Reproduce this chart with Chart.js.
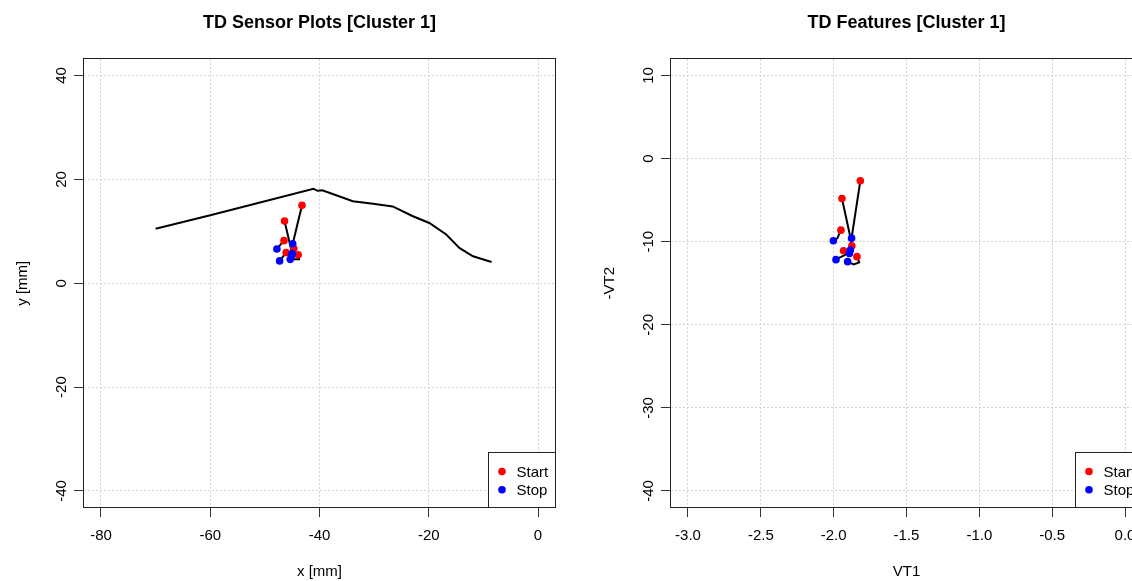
<!DOCTYPE html>
<html>
<head>
<meta charset="utf-8">
<script src="https://cdn.jsdelivr.net/npm/chart.js@4.4.1/dist/chart.umd.min.js"></script>
<style>
  html, body { margin: 0; padding: 0; background: #fff; overflow: hidden; width: 1132px; height: 581px; }
  .panel { position: absolute; top: 0; width: 639px; height: 581px; }
</style>
</head>
<body>
<div class="panel" style="left:0"><canvas id="sensorChart" width="639" height="581"></canvas></div>
<div class="panel" style="left:587px"><canvas id="featureChart" width="639" height="581"></canvas></div>
<script>
// ---- data ----

// long sensor trace (no start/stop marks)
const pathX = [-70.0, -60.0, -41.1, -40.4, -39.5, -36.3, -33.9, -30.2, -26.6, -22.9, -19.9, -16.8, -14.4, -11.9, -8.5];
const pathY = [10.5, 13.1, 18.2, 17.8, 17.9, 16.7, 15.8, 15.3, 14.8, 12.9, 11.6, 9.4, 6.8, 5.2, 4.1];

// short strokes, first point = start, last point = stop
const sensorStrokesX = [
  [-43.2, -44.9],
  [-46.4, -45.0],
  [-46.5, -47.8],
  [-46.1, -47.3],
  [-43.9, -43.75, -45.35],
  [-44.7, -45.1]
];
const sensorStrokesY = [
  [15.0, 7.6],
  [12.0, 5.7],
  [8.2, 6.6],
  [5.9, 4.3],
  [5.5, 4.6, 4.6],
  [6.7, 5.4]
];

const featStrokesX = [
  [-1.817, -1.877],
  [-1.943, -1.880, -1.892],
  [-1.950, -1.975, -2.002],
  [-1.932, -1.918, -1.959, -1.984],
  [-1.840, -1.825, -1.863, -1.904],
  [-1.875, -1.885]
];
const featStrokesY = [
  [-2.67, -9.57],
  [-4.80, -9.9, -11.41],
  [-8.61, -9.6, -9.88],
  [-11.08, -11.56, -11.92, -12.16],
  [-11.80, -12.49, -12.73, -12.40],
  [-10.48, -11.0]
];

const sensorXTicks = [-80, -60, -40, -20, 0];
const sensorYTicks = [-40, -20, 0, 20, 40];
const featXTicks = [-3.0, -2.5, -2.0, -1.5, -1.0, -0.5, 0.0];
const featYTicks = [-40, -30, -20, -10, 0, 10];

const legendLabels = ['Start', 'Stop'];
const legendColors = ['#ff0000', '#0000ff'];

// ---------------------------------------------------------

Chart.defaults.font.family = "'Liberation Sans', Arial, sans-serif";
Chart.defaults.color = '#000';

const AXIS_W = 83.5;   // y axis box width
const AXIS_H = 73.4;   // x axis box height
const TOP_H = 58.9;    // space above the plot for the title

// title centred on the plot, frame round it, legend at bottom right
const framePlugin = {
  id: 'frame',
  afterDraw(chart, args, opts) {
    const ctx = chart.ctx;
    const a = chart.chartArea;
    ctx.save();

    ctx.fillStyle = '#000';
    ctx.font = "bold 18px 'Liberation Sans', Arial, sans-serif";
    ctx.textAlign = 'center';
    ctx.textBaseline = 'middle';
    ctx.fillText(opts.title, (a.left + a.right) / 2, 23);

    ctx.strokeStyle = '#222';
    ctx.lineWidth = 1;
    ctx.strokeRect(Math.floor(a.left) + 0.5, Math.floor(a.top) + 0.5,
      Math.round(a.right - a.left), Math.round(a.bottom - a.top));

    // legend
    const w = 67, h = 55;
    const bx = Math.floor(a.right - w) + 0.5;
    const by = Math.floor(a.bottom - h) + 0.5;
    ctx.fillStyle = '#fff';
    ctx.fillRect(bx, by, w, h);
    ctx.strokeRect(bx, by, w, h);
    ctx.font = "15px 'Liberation Sans', Arial, sans-serif";
    ctx.textAlign = 'left';
    legendLabels.forEach((lab, i) => {
      const cy = by + 19 + i * 18.3;
      ctx.fillStyle = legendColors[i];
      ctx.beginPath();
      ctx.arc(bx + 13.5, cy, 3.8, 0, Math.PI * 2);
      ctx.fill();
      ctx.fillStyle = '#000';
      ctx.fillText(lab, bx + 28, cy + 1);
    });
    ctx.restore();
  }
};

function axis(min, max, ticks, title, isY, fmt) {
  return {
    type: 'linear',
    min: min,
    max: max,
    afterBuildTicks: s => { s.ticks = ticks.map(v => ({ value: v })); },
    afterFit: s => { if (isY) s.width = AXIS_W; else s.height = AXIS_H; },
    grid: {
      color: '#d3d3d3', lineWidth: 1,
      drawTicks: true, tickLength: 9.5,
      tickColor: '#333', tickWidth: 1, tickBorderDash: []
    },
    border: { display: false, dash: [2, 2] },
    ticks: isY
      ? { font: { size: 15 }, minRotation: 90, maxRotation: 90, crossAlign: 'center', padding: 1.8, autoSkip: false, callback: fmt }
      : { font: { size: 15 }, minRotation: 0, maxRotation: 0, padding: 9.4, autoSkip: false, callback: fmt },
    title: {
      display: true, text: title, font: { size: 15 },
      padding: isY ? { top: 14, bottom: 0 } : { top: 0, bottom: 0 }
    }
  };
}

function buildDatasets(strokesX, strokesY, lineX, lineY) {
  let sets = [];
  if (lineX) {
    sets.push({
      data: lineX.map((x, i) => ({ x: x, y: lineY[i] })),
      showLine: true, borderColor: '#000', borderWidth: 2, pointRadius: 0, order: 3
    });
  }
  strokesX.forEach((xs, i) => {
    sets.push({
      data: xs.map((x, j) => ({ x: x, y: strokesY[i][j] })),
      showLine: true, borderColor: '#000', borderWidth: 2, pointRadius: 0, order: 3
    });
  });
  sets.push({
    data: strokesX.map((xs, i) => ({ x: xs[0], y: strokesY[i][0] })),
    pointRadius: 3.8, pointBackgroundColor: legendColors[0], pointBorderWidth: 0, order: 2
  });
  sets.push({
    data: strokesX.map((xs, i) => ({ x: xs[xs.length - 1], y: strokesY[i][strokesY[i].length - 1] })),
    pointRadius: 3.8, pointBackgroundColor: legendColors[1], pointBorderWidth: 0, order: 1
  });
  return sets;
}

function makeChart(id, title, datasets, xAxis, yAxis) {
  return new Chart(document.getElementById(id), {
    type: 'scatter',
    data: { datasets: datasets },
    options: {
      responsive: false,
      animation: false,
      devicePixelRatio: 1,
      events: [],
      layout: { padding: { left: 0, right: AXIS_W, top: TOP_H, bottom: 0 } },
      plugins: {
        legend: { display: false },
        tooltip: { enabled: false },
        title: { display: false },
        frame: { title: title }
      },
      scales: { x: xAxis, y: yAxis }
    },
    plugins: [framePlugin]
  });
}

makeChart('sensorChart', 'TD Sensor Plots [Cluster 1]',
  buildDatasets(sensorStrokesX, sensorStrokesY, pathX, pathY),
  axis(-83.2, 3.2, sensorXTicks, 'x [mm]', false, v => String(v)),
  axis(-43.2, 43.2, sensorYTicks, 'y [mm]', true, v => String(v)));

makeChart('featureChart', 'TD Features [Cluster 1]',
  buildDatasets(featStrokesX, featStrokesY),
  axis(-3.12, 0.12, featXTicks, 'VT1', false, v => v.toFixed(1)),
  axis(-42, 12, featYTicks, '-VT2', true, v => String(v)));
</script>
</body>
</html>
